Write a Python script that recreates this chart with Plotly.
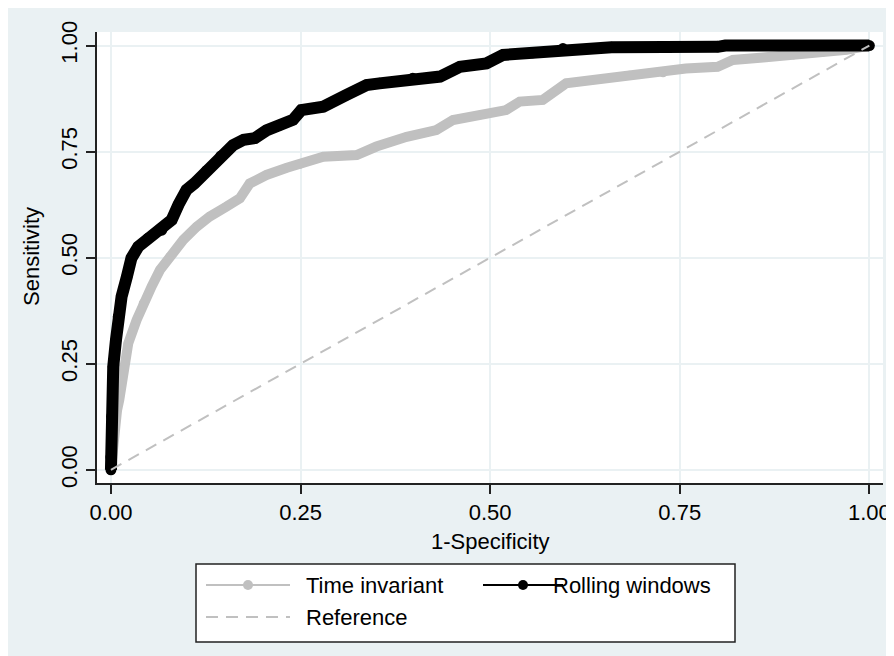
import plotly.graph_objects as go

# ---------------- data ----------------
fpr_time_invariant = [0.0, 0.002, 0.005, 0.008, 0.011, 0.0162, 0.0228, 0.0338, 0.0426, 0.0536,
                      0.0646, 0.0777, 0.0953, 0.113, 0.130, 0.152, 0.170, 0.183, 0.205, 0.232,
                      0.249, 0.280, 0.324, 0.350, 0.390, 0.429, 0.451, 0.486, 0.521, 0.539,
                      0.5695, 0.600, 0.640, 0.684, 0.728, 0.758, 0.800, 0.820, 0.860, 0.900,
                      0.940, 0.970, 1.0]
tpr_time_invariant = [0.0, 0.05, 0.10, 0.14, 0.165, 0.243, 0.298, 0.353, 0.393, 0.432,
                      0.471, 0.5025, 0.542, 0.573, 0.597, 0.620, 0.640, 0.675, 0.695, 0.712,
                      0.720, 0.738, 0.742, 0.762, 0.785, 0.801, 0.8245, 0.836, 0.848, 0.868,
                      0.872, 0.911, 0.920, 0.930, 0.936, 0.946, 0.950, 0.966, 0.972, 0.978,
                      0.985, 0.990, 1.0]

fpr_rolling = [0.0, 0.0, 0.001, 0.003, 0.0066, 0.0096, 0.014, 0.021, 0.027, 0.036,
               0.049, 0.067, 0.080, 0.089, 0.0996, 0.110, 0.126, 0.145, 0.161, 0.175,
               0.190, 0.205, 0.223, 0.240, 0.251, 0.280, 0.310, 0.337, 0.354, 0.398,
               0.434, 0.460, 0.495, 0.517, 0.556, 0.596, 0.660, 0.800, 0.810, 1.0]
tpr_rolling = [0.0, 0.03, 0.126, 0.243, 0.306, 0.361, 0.408, 0.455, 0.499, 0.526,
               0.546, 0.565, 0.589, 0.625, 0.660, 0.675, 0.705, 0.740, 0.765, 0.778,
               0.782, 0.800, 0.813, 0.825, 0.848, 0.856, 0.883, 0.907, 0.911, 0.923,
               0.927, 0.950, 0.958, 0.978, 0.983, 0.993, 0.996, 0.997, 1.0, 1.0]

ref_x = [0.0, 1.0]
ref_y = [0.0, 1.0]

tick_vals = [0.0, 0.25, 0.5, 0.75, 1.0]
tick_text = ["0.00", "0.25", "0.50", "0.75", "1.00"]

legend_labels = ["Time invariant", "Rolling windows", "Reference"]

# ---------------- styling ----------------
OFF = 8                      # page body margin
W, H = 894, 656
ML, MR, MT, MB = 89, 19, 24, 181
PW, PH = W - ML - MR, H - MT - MB
BG = "#EAF1F3"
GRAY = "#C0C0C0"
FONT = "Liberation Sans, Arial, sans-serif"
FS = 22
DASH = "12px,8px"


def px(x):
    """page pixel x -> paper coordinate"""
    return (x - OFF - ML) / PW


def py(y):
    """page pixel y -> paper coordinate"""
    return (H - MB - (y - OFF)) / PH


fig = go.Figure()

fig.add_trace(go.Scatter(x=fpr_time_invariant, y=tpr_time_invariant, mode="lines+markers",
                         line=dict(color=GRAY, width=10), marker=dict(color=GRAY, size=9),
                         name=legend_labels[0], showlegend=False))
fig.add_trace(go.Scatter(x=fpr_rolling, y=tpr_rolling, mode="lines+markers",
                         line=dict(color="black", width=12), marker=dict(color="black", size=11),
                         name=legend_labels[1], showlegend=False))
fig.add_trace(go.Scatter(x=ref_x, y=ref_y, mode="lines",
                         line=dict(color=GRAY, width=2, dash=DASH),
                         name=legend_labels[2], showlegend=False))

shapes = [
    # legend box
    dict(type="rect", xref="paper", yref="paper", x0=px(196), x1=px(735), y0=py(564), y1=py(642),
         fillcolor="white", line=dict(color="#222222", width=1.5)),
    # legend symbols
    dict(type="line", xref="paper", yref="paper", x0=px(206), x1=px(290), y0=py(585), y1=py(585),
         line=dict(color=GRAY, width=2)),
    dict(type="circle", xref="paper", yref="paper", x0=px(243), x1=px(253), y0=py(580), y1=py(590),
         fillcolor=GRAY, line=dict(color=GRAY, width=0)),
    dict(type="line", xref="paper", yref="paper", x0=px(483), x1=px(563), y0=py(585), y1=py(585),
         line=dict(color="black", width=2)),
    dict(type="circle", xref="paper", yref="paper", x0=px(518), x1=px(528), y0=py(580), y1=py(590),
         fillcolor="black", line=dict(color="black", width=0)),
    dict(type="line", xref="paper", yref="paper", x0=px(206), x1=px(290), y0=py(617), y1=py(617),
         line=dict(color=GRAY, width=2, dash=DASH)),
]

annotations = [
    dict(text=legend_labels[0], xref="paper", yref="paper", x=px(304), y=py(585),
         xanchor="left", yanchor="middle", showarrow=False, font=dict(size=FS, color="black", family=FONT)),
    dict(text=legend_labels[1], xref="paper", yref="paper", x=px(551), y=py(585),
         xanchor="left", yanchor="middle", showarrow=False, font=dict(size=FS, color="black", family=FONT)),
    dict(text=legend_labels[2], xref="paper", yref="paper", x=px(304), y=py(617),
         xanchor="left", yanchor="middle", showarrow=False, font=dict(size=FS, color="black", family=FONT)),
    dict(text="1-Specificity", xref="paper", yref="paper", x=px(490), y=py(541),
         xanchor="center", yanchor="middle", showarrow=False, font=dict(size=FS, color="black", family=FONT)),
    dict(text="Sensitivity", xref="paper", yref="paper", x=px(31), y=py(257), textangle=-90,
         xanchor="center", yanchor="middle", showarrow=False, font=dict(size=FS, color="black", family=FONT)),
]

axis_common = dict(
    tickvals=tick_vals, ticktext=tick_text, ticks="outside", ticklen=9, tickwidth=1.5,
    tickcolor="#222222", showline=True, linecolor="#222222", linewidth=1.5,
    showgrid=True, gridcolor=BG, gridwidth=1.5, zeroline=False,
    tickfont=dict(size=FS, color="black", family=FONT), mirror=False, fixedrange=True,
)

fig.update_layout(
    width=W, height=H,
    margin=dict(l=ML, r=MR, t=MT, b=MB, pad=0),
    paper_bgcolor=BG, plot_bgcolor="white",
    xaxis=dict(range=[-0.0184, 1.018], **axis_common),
    yaxis=dict(range=[-0.031, 1.032], tickangle=-90, **axis_common),
    shapes=shapes, annotations=annotations,
    showlegend=False,
    font=dict(family=FONT),
)

fig.write_html("out.html")
